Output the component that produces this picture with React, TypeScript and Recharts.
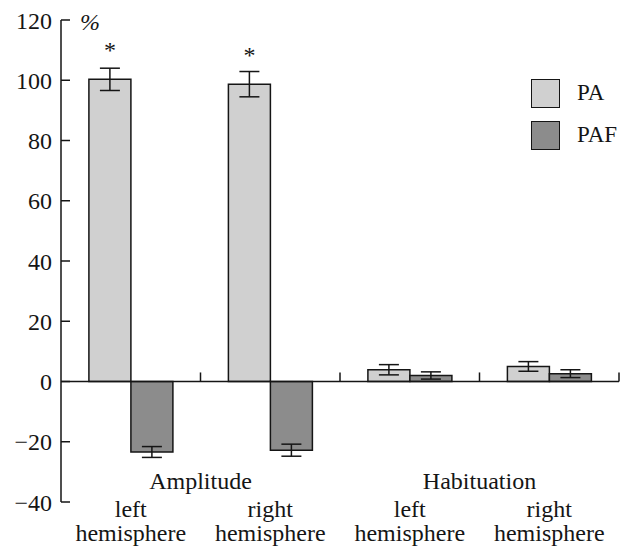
import {
  BarChart,
  Bar,
  XAxis,
  YAxis,
  ErrorBar,
  LabelList,
  Legend,
  ReferenceLine,
  ReferenceArea,
} from "recharts";

const categories = ["Amplitude|left", "Amplitude|right", "Habituation|left", "Habituation|right"];
const paValues = [100.3, 98.7, 3.9, 5.0];
const paErrors = [3.7, 4.2, 1.7, 1.6];
const pafValues = [-23.4, -22.8, 2.0, 2.6];
const pafErrors = [1.8, 2.0, 1.2, 1.3];
const stars = ["*", "*", "", ""];

const groups = [
  { name: "Amplitude", from: categories[0], to: categories[1] },
  { name: "Habituation", from: categories[2], to: categories[3] },
];
const yTicks = [-40, -20, 0, 20, 40, 60, 80, 100, 120];

const data = categories.map((cat, i) => ({
  cat,
  pa: paValues[i],
  paErr: paErrors[i],
  paf: pafValues[i],
  pafErr: pafErrors[i],
  star: stars[i],
}));

const FONT = "'Liberation Serif', 'Times New Roman', serif";
const INK = "#151515";
const TICK_MARGIN = 9;

// label left of the axis, tick pointing into the plot
function YTick({ x, y, payload }: any) {
  const v = payload.value;
  const label = v < 0 ? "\u2212" + Math.abs(v) : String(v);
  const axisX = x + TICK_MARGIN;
  return (
    <g>
      <text x={x} y={y} dy="0.36em" textAnchor="end" fontFamily={FONT} fontSize={24} fill={INK}>
        {label}
      </text>
      <line x1={axisX} x2={axisX + 9} y1={y} y2={y} stroke={INK} strokeWidth={1.5} />
    </g>
  );
}

function XTick({ x, y, payload }: any) {
  const side = String(payload.value).split("|")[1];
  return (
    <g>
      <text x={x} y={y + 15} textAnchor="middle" fontFamily={FONT} fontSize={24} fill={INK}>
        {side}
      </text>
      <text x={x} y={y + 39} textAnchor="middle" fontFamily={FONT} fontSize={24} fill={INK}>
        hemisphere
      </text>
    </g>
  );
}

// short upward tick on the zero line at the right edge of a category band
function BoundaryTick({ x, y, width, height }: any) {
  const bx = x + width;
  return <line x1={bx} x2={bx} y1={y} y2={y + height} stroke={INK} strokeWidth={1.5} />;
}

function GroupText({ x, y, width, height, text }: any) {
  return (
    <text
      x={x + width / 2}
      y={y + height / 2}
      dy="0.35em"
      textAnchor="middle"
      fontFamily={FONT}
      fontSize={24}
      fill={INK}
    >
      {text}
    </text>
  );
}

function PercentLabel({ viewBox }: any) {
  return (
    <text
      x={viewBox.x + viewBox.width + 29}
      y={viewBox.y + 2}
      dy="0.35em"
      textAnchor="middle"
      fontFamily={FONT}
      fontSize={24}
      fontStyle="italic"
      fill={INK}
    >
      %
    </text>
  );
}

function LegendBox({ payload }: any) {
  return (
    <div style={{ fontFamily: FONT, fontSize: 23, color: INK }}>
      {(payload || []).map((p: any) => (
        <div key={p.value} style={{ display: "flex", alignItems: "center", height: 42 }}>
          <div
            style={{
              width: 27,
              height: 27,
              background: p.color,
              border: `1.5px solid ${INK}`,
              marginRight: 17,
            }}
          />
          <span>{p.value}</span>
        </div>
      ))}
    </div>
  );
}

export default function App() {
  return (
    <div style={{ width: 620, height: 550, background: "#fff" }}>
      <style>{"body{margin:0}"}</style>
      <BarChart
        width={620}
        height={550}
        data={data}
        margin={{ top: 20, right: 1, left: 0, bottom: 0 }}
        barCategoryGap="20%"
        barGap={0}
      >
        <XAxis
          dataKey="cat"
          tick={<XTick />}
          tickLine={false}
          axisLine={false}
          tickSize={0}
          tickMargin={0}
          height={48}
          interval={0}
        />
        <YAxis
          type="number"
          domain={[-40, 120]}
          ticks={yTicks}
          width={61}
          tick={<YTick />}
          tickLine={false}
          tickSize={0}
          tickMargin={TICK_MARGIN}
          axisLine={{ stroke: INK, strokeWidth: 1.5 }}
          interval={0}
          label={<PercentLabel />}
        />
        <Legend
          layout="vertical"
          align="center"
          verticalAlign="middle"
          wrapperStyle={{ left: 531, top: 72, width: 90 }}
          content={<LegendBox />}
        />
        <Bar dataKey="pa" name="PA" fill="#d0d0d0" stroke={INK} strokeWidth={1.5} isAnimationActive={false}>
          <ErrorBar dataKey="paErr" width={10} stroke={INK} strokeWidth={1.5} />
          <LabelList
            dataKey="star"
            position="top"
            offset={21}
            style={{ fontFamily: FONT, fontSize: 24, fill: INK }}
          />
        </Bar>
        <Bar dataKey="paf" name="PAF" fill="#8c8c8c" stroke={INK} strokeWidth={1.5} isAnimationActive={false}>
          <ErrorBar dataKey="pafErr" width={10} stroke={INK} strokeWidth={1.5} />
        </Bar>
        <ReferenceLine y={0} stroke={INK} strokeWidth={1.5} />
        {categories.map((c) => (
          <ReferenceArea key={c} x1={c} x2={c} y1={0} y2={3} shape={<BoundaryTick />} />
        ))}
        {groups.map((g) => (
          <ReferenceArea
            key={g.name}
            x1={g.from}
            x2={g.to}
            y1={-40}
            y2={-26}
            shape={(p: any) => <GroupText {...p} text={g.name} />}
          />
        ))}
      </BarChart>
    </div>
  );
}
